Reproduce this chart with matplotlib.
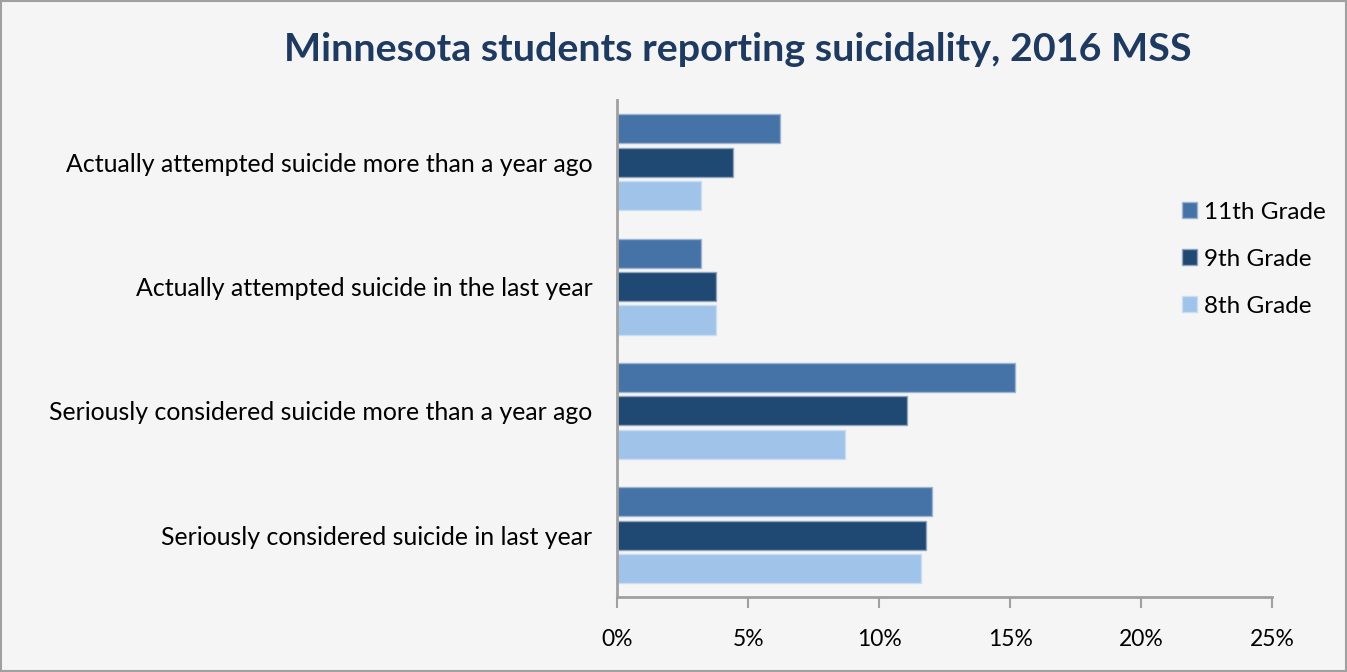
import numpy as np
import matplotlib.pyplot as plt
from matplotlib.ticker import FuncFormatter

categories = [
    "Seriously considered suicide in last year",
    "Seriously considered suicide more than a year ago",
    "Actually attempted suicide in the last year",
    "Actually attempted suicide more than a year ago",
]
grade11 = [12.0, 15.2, 3.2, 6.2]
grade9 = [11.8, 11.05, 3.75, 4.4]
grade8 = [11.6, 8.7, 3.75, 3.2]

series = [("11th Grade", grade11, "#4572A7", "#9DB4D0"),
          ("9th Grade", grade9, "#1F4872", "#8FA4BC"),
          ("8th Grade", grade8, "#A0C3EA", "#C9DDF3")]

plt.rcParams["font.family"] = ["Lato", "DejaVu Sans"]

fig = plt.figure(figsize=(13.47, 6.72), dpi=100, facecolor="#F5F5F5")
ax = fig.add_axes([0.4583, 0.1109, 0.486, 0.7403])
ax.set_facecolor("#F5F5F5")

y = np.arange(len(categories))
step = 0.269
offsets = [step, 0, -step]
for (name, vals, col, edge), off in zip(series, offsets):
    ax.barh(y + off, vals, height=0.234, color=col, edgecolor=edge, linewidth=1, label=name)

ax.set_xlim(0, 25)
ax.set_ylim(-0.5, 3.5)
ax.set_xticks([0, 5, 10, 15, 20, 25])
ax.xaxis.set_major_formatter(FuncFormatter(lambda v, p: f"{v:.0f}%"))
ax.set_yticks(y)
ax.set_yticklabels(categories)
ax.tick_params(axis="y", length=0, pad=18, labelsize=17.9)
ax.tick_params(axis="x", length=8, width=1.5, color="#A0A0A0", pad=15, labelsize=16.5)

for s in ["top", "right"]:
    ax.spines[s].set_visible(False)
for s in ["left", "bottom"]:
    ax.spines[s].set_color("#A0A0A0")
    ax.spines[s].set_linewidth(2)

fig.text(0.5475, 0.926, "Minnesota students reporting suicidality, 2016 MSS",
         ha="center", va="center", fontsize=28.4, fontweight="bold", color="#1F3A60")

leg = fig.legend(loc="center left", bbox_to_anchor=(0.861, 0.614), frameon=False,
                 fontsize=17.5, handlelength=0.62, handleheight=0.62, handletextpad=0.3,
                 labelspacing=1.07)

border = plt.Rectangle((0.001, 0.001), 0.998, 0.998, transform=fig.transFigure,
                       fill=False, edgecolor="#A0A0A0", linewidth=1.5)
fig.patches.append(border)

fig.savefig("out.png", dpi=100, facecolor=fig.get_facecolor())
